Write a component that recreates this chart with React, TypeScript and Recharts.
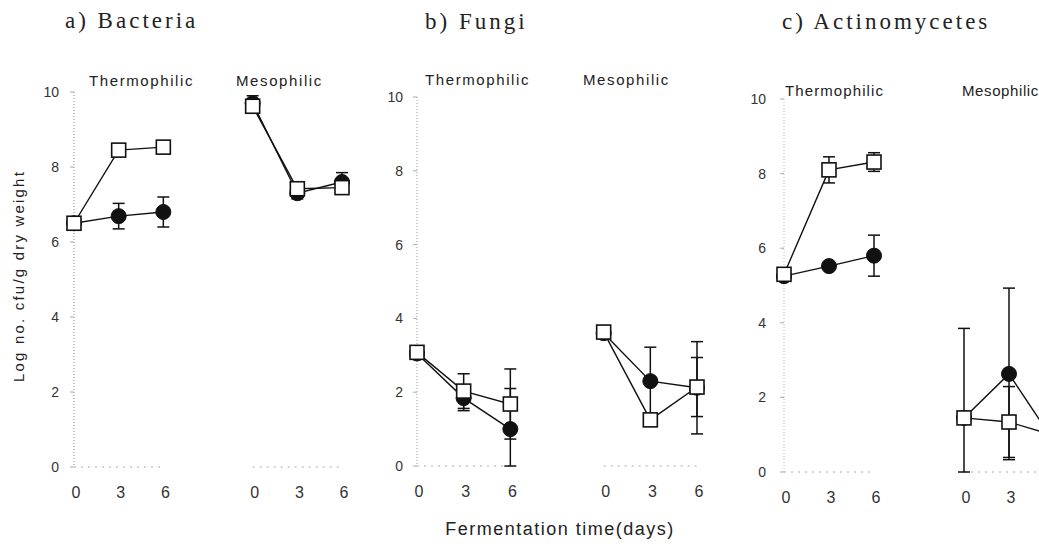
import { LineChart, Line, XAxis, YAxis, ErrorBar, ReferenceLine } from "recharts";

// sampling days (thermophilic and mesophilic groups share them)
const days = [0, 3, 6];
const xTickLabels = ["0", "3", "6", "0", "3", "6"];
const yTicks = [0, 2, 4, 6, 8, 10];

// a) Bacteria
const bacThermoOpen = [6.5, 8.45, 8.53];
const bacThermoOpenErr = [0.15, 0, 0];
const bacThermoFilled = [6.5, 6.69, 6.8];
const bacThermoFilledErr = [0.15, 0.34, 0.4];
const bacMesoOpen = [9.62, 7.42, 7.45];
const bacMesoOpenErr = [0.1, 0.1, 0.1];
const bacMesoFilled = [9.7, 7.3, 7.6];
const bacMesoFilledErr = [0.2, 0.15, 0.25];

// b) Fungi
const funThermoOpen = [3.08, 2.03, 1.68];
const funThermoOpenErr = [0, 0.47, 0.95];
const funThermoFilled = [3.05, 1.84, 1.0];
const funThermoFilledErr: (number | number[])[] = [0, 0.34, [1.0, 1.1]];
const funMesoOpen = [3.63, 1.25, 2.14];
const funMesoOpenErr = [0, 0, 0.8];
const funMesoFilled = [3.6, 2.3, 2.12];
const funMesoFilledErr = [0, 0.92, 1.25];

// c) Actinomycetes
const actThermoOpen = [5.3, 8.1, 8.31];
const actThermoOpenErr = [0.1, 0.35, 0.25];
const actThermoFilled = [5.25, 5.52, 5.8];
const actThermoFilledErr = [0.1, 0.1, 0.55];
const actMesoOpen = [1.45, 1.34, 0.98];
const actMesoOpenErr: (number | number[])[] = [[1.45, 2.4], 0.95, 0.5];
const actMesoFilled = [1.45, 2.63, 0.82];
const actMesoFilledErr = [0, 2.3, 0.5];

const MESO_OFFSET = 12;
const INK = "#111";
const X_TICKS = [0, 3, 6, 12, 15, 18];

type Row = { x: number; y: number; err: number | number[] };

function rows(values: number[], errs: (number | number[])[], offset = 0): Row[] {
  return days.map((d, i) => ({ x: d + offset, y: values[i], err: errs[i] }));
}

const SquareDot = (props: any) => {
  const { cx, cy, index } = props;
  if (cx == null || cy == null) return <g key={index} />;
  return (
    <rect
      key={index}
      x={cx - 7}
      y={cy - 7}
      width={14}
      height={14}
      fill="#fff"
      stroke={INK}
      strokeWidth={1.6}
    />
  );
};

const circleDot = { r: 7.5, fill: INK, stroke: INK, strokeWidth: 1 };

type PanelProps = {
  left: number;
  margin: { top: number; right: number; bottom: number; left: number };
  yAxisWidth: number;
  yTickGap: number;
  axisStroke: string;
  xTicks: number[];
  thermoOpen: Row[];
  thermoFilled: Row[];
  mesoOpen: Row[];
  mesoFilled: Row[];
};

function Panel(p: PanelProps) {
  const series = [
    { key: "tf", data: p.thermoFilled, dot: circleDot },
    { key: "mf", data: p.mesoFilled, dot: circleDot },
    { key: "to", data: p.thermoOpen, dot: SquareDot },
    { key: "mo", data: p.mesoOpen, dot: SquareDot },
  ];
  return (
    <div style={{ position: "absolute", left: p.left, top: 0 }}>
      <LineChart width={360} height={544} margin={p.margin}>
        <XAxis
          type="number"
          dataKey="x"
          domain={[0, 18]}
          ticks={p.xTicks}
          tickFormatter={(v: number) => {
            const i = X_TICKS.indexOf(v);
            return i >= 0 ? xTickLabels[i] : "";
          }}
          axisLine={false}
          tickLine={false}
          tickSize={6}
          tickMargin={14}
          height={30}
          tick={{ fontSize: 16, fill: "#333", dx: 2 }}
        />
        <YAxis
          type="number"
          domain={[0, 10]}
          ticks={yTicks}
          width={p.yAxisWidth}
          axisLine={{ stroke: p.axisStroke, strokeDasharray: "1 2" }}
          tickLine={{ stroke: "#aaa" }}
          tickSize={4}
          tickMargin={p.yTickGap - 4}
          tick={{ fontSize: 14, fill: "#333" }}
        />
        <ReferenceLine
          segment={[
            { x: days[0], y: 0 },
            { x: days[2], y: 0 },
          ]}
          stroke="#aaa"
          strokeDasharray="2 5"
        />
        <ReferenceLine
          segment={[
            { x: days[0] + MESO_OFFSET, y: 0 },
            { x: days[2] + MESO_OFFSET, y: 0 },
          ]}
          stroke="#aaa"
          strokeDasharray="2 5"
        />
        {series.map((s) => (
          <Line
            key={s.key}
            data={s.data}
            dataKey="y"
            stroke={INK}
            strokeWidth={1.4}
            dot={s.dot as any}
            activeDot={false}
            isAnimationActive={false}
          >
            <ErrorBar dataKey="err" width={6} stroke={INK} strokeWidth={1.5} />
          </Line>
        ))}
      </LineChart>
    </div>
  );
}

export default function App() {
  const serif = "'Liberation Serif', 'DejaVu Serif', serif";
  const sans = "'Liberation Sans', Arial, sans-serif";
  const sub = { fontFamily: sans, fontSize: 15, letterSpacing: 1.6, fill: "#222" };
  const subTight = { ...sub, letterSpacing: 0.6 };
  const title = { fontFamily: serif, fontSize: 23, letterSpacing: 3, fill: "#222" };
  return (
    <div
      style={{
        position: "absolute",
        left: 0,
        top: 0,
        width: 1039,
        height: 544,
        overflow: "hidden",
        background: "#fff",
        fontFamily: sans,
      }}
    >
      <Panel
        left={0}
        margin={{ top: 92, right: 18, bottom: 47, left: 20 }}
        yAxisWidth={54}
        yTickGap={15}
        axisStroke="#888"
        xTicks={X_TICKS}
        thermoOpen={rows(bacThermoOpen, bacThermoOpenErr)}
        thermoFilled={rows(bacThermoFilled, bacThermoFilledErr)}
        mesoOpen={rows(bacMesoOpen, bacMesoOpenErr, MESO_OFFSET)}
        mesoFilled={rows(bacMesoFilled, bacMesoFilledErr, MESO_OFFSET)}
      />
      <Panel
        left={360}
        margin={{ top: 97, right: 23, bottom: 48, left: 20 }}
        yAxisWidth={37}
        yTickGap={14}
        axisStroke="#999"
        xTicks={X_TICKS}
        thermoOpen={rows(funThermoOpen, funThermoOpenErr)}
        thermoFilled={rows(funThermoFilled, funThermoFilledErr)}
        mesoOpen={rows(funMesoOpen, funMesoOpenErr, MESO_OFFSET)}
        mesoFilled={rows(funMesoFilled, funMesoFilledErr, MESO_OFFSET)}
      />
      {/* panel c runs past the right edge of the page, as in the source figure */}
      <Panel
        left={720}
        margin={{ top: 99, right: 26, bottom: 42, left: 20 }}
        yAxisWidth={44}
        yTickGap={18}
        axisStroke="#bbb"
        xTicks={X_TICKS.slice(0, 5)}
        thermoOpen={rows(actThermoOpen, actThermoOpenErr)}
        thermoFilled={rows(actThermoFilled, actThermoFilledErr)}
        mesoOpen={rows(actMesoOpen, actMesoOpenErr, MESO_OFFSET)}
        mesoFilled={rows(actMesoFilled, actMesoFilledErr, MESO_OFFSET)}
      />
      <svg
        width={1039}
        height={544}
        style={{ position: "absolute", left: 0, top: 0, pointerEvents: "none" }}
      >
        <text x={65} y={28} style={title}>a) Bacteria</text>
        <text x={425} y={29} style={title}>b) Fungi</text>
        <text x={782} y={29} style={title}>c) Actinomycetes</text>

        <text x={89} y={86} style={sub}>Thermophilic</text>
        <text x={236} y={86} style={sub}>Mesophilic</text>
        <text x={425} y={85} style={sub}>Thermophilic</text>
        <text x={583} y={85} style={sub}>Mesophilic</text>
        <text x={785} y={96} style={{ ...sub, letterSpacing: 1.1 }}>Thermophilic</text>
        <text x={962} y={96} style={subTight}>Mesophilic</text>

        <text
          transform="translate(24,276) rotate(-90)"
          textAnchor="middle"
          style={{ fontFamily: sans, fontSize: 15, letterSpacing: 2.2, fill: "#222" }}
        >
          Log no. cfu/g dry weight
        </text>
        <text
          x={560}
          y={535}
          textAnchor="middle"
          style={{ fontFamily: sans, fontSize: 18, letterSpacing: 1.5, fill: "#222" }}
        >
          Fermentation time(days)
        </text>
      </svg>
    </div>
  );
}
